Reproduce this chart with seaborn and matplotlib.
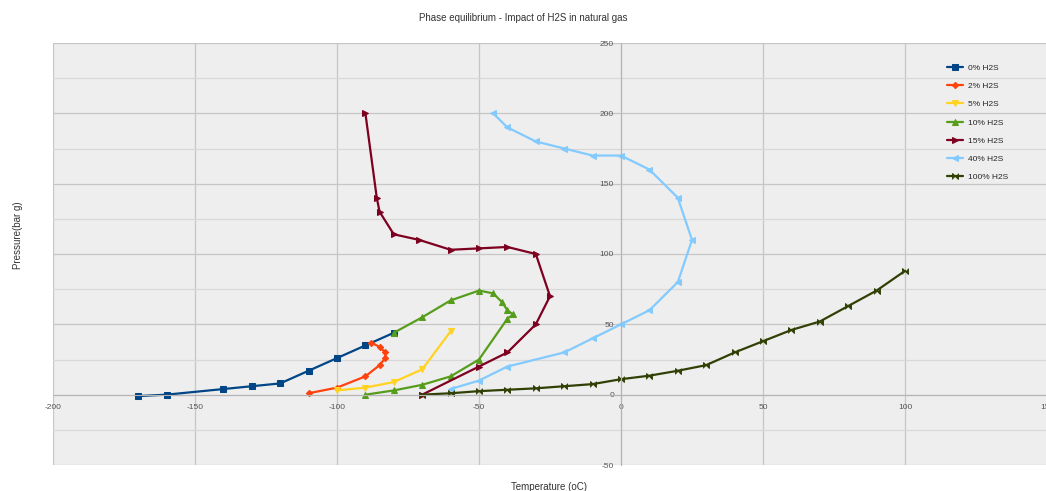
import numpy as np
import matplotlib as mpl
_ = mpl.use('Agg')
import matplotlib.pyplot as plt
import seaborn as sns
import pandas as pd

# series: temperature (oC), pressure (bar g)
t_0 = [-170, -160, -140, -130, -120, -110, -100, -90, -80]
p_0 = [-1, 0, 4, 6, 8, 17, 26, 35, 44]

t_2 = [-110, -100, -90, -85, -83, -83, -85, -88]
p_2 = [1, 5, 13, 21, 26, 30, 34, 37]

t_5 = [-100, -90, -80, -70, -60]
p_5 = [3, 5, 9, 18, 45]

t_10 = [-90, -80, -70, -60, -50, -40, -38, -40, -42, -45, -50, -60, -70, -80]
p_10 = [0, 3, 7, 13, 25, 54, 57, 60, 66, 72, 74, 67, 55, 44]

t_15 = [-90, -86, -85, -80, -71, -60, -50, -40, -30, -25, -30, -40, -50, -70]
p_15 = [200, 140, 130, 114, 110, 103, 104, 105, 100, 70, 50, 30, 20, 0]

t_40 = [-45, -40, -30, -20, -10, 0, 10, 20, 25, 20, 10, 0, -10, -20, -40, -50, -60]
p_40 = [200, 190, 180, 175, 170, 170, 160, 140, 110, 80, 60, 50, 40, 30, 20, 10, 4]

t_100 = [-70, -60, -50, -40, -30, -20, -10, 0, 10, 20, 30, 40, 50, 60, 70, 80, 90, 100]
p_100 = [0, 1, 2.5, 3.5, 4.5, 6, 7.5, 11, 13.5, 17, 21, 30, 38, 46, 52, 63, 74, 88]

labels = ['0% H2S', '2% H2S', '5% H2S', '10% H2S', '15% H2S', '40% H2S', '100% H2S']
temps = [t_0, t_2, t_5, t_10, t_15, t_40, t_100]
pressures = [p_0, p_2, p_5, p_10, p_15, p_40, p_100]

colors = ['#004586', '#ff420e', '#ffd320', '#579d1c', '#7e0021', '#83caff', '#314004']
bowtie = [(-1, -1), (-1, 1), (1, -1), (1, 1)]
markers = ['s', 'D', 'v', '^', '>', '<', bowtie]
msizes = [4.0, 3.2, 4.2, 4.2, 4.2, 4.2, 4.2]

sns.set_style('white')
plt.rcParams['font.family'] = ['Liberation Sans', 'DejaVu Sans']
plt.rcParams['axes.unicode_minus'] = False

fig = plt.figure(figsize=(10.46, 4.91), dpi=100)
ax = fig.add_axes([53 / 1046, 26 / 491, 994 / 1046, 422 / 491])
ax.set_facecolor('#eeeeee')

for lab, t, p, c, m, ms in zip(labels, temps, pressures, colors, markers, msizes):
    df = pd.DataFrame({'T': t, 'P': p})
    sns.lineplot(data=df, x='T', y='P', sort=False, estimator=None, ax=ax,
                 color=c, marker=m, markersize=ms, markeredgecolor=c,
                 linewidth=1.6, label=lab)

ax.set_xlim(-200, 150)
ax.set_ylim(-50, 250)
ax.set_xticks(np.arange(-200, 151, 50))
ax.set_yticks(np.arange(-50, 251, 50))
ax.set_yticks(np.arange(-25, 251, 50), minor=True)
ax.grid(True, which='major', color='#c6c6c6', linewidth=0.9)
ax.grid(True, which='minor', axis='y', color='#d8d8d8', linewidth=0.9)
ax.set_axisbelow(True)

ax.spines['left'].set_position(('data', 0))
ax.spines['bottom'].set_position(('data', 0))
ax.spines['left'].set_color('#b4b4b4')
ax.spines['bottom'].set_color('#b4b4b4')
ax.spines['top'].set_visible(False)
ax.spines['right'].set_visible(False)
ax.tick_params(axis='both', which='both', length=0, labelsize=6, colors='#555555')
ax.tick_params(axis='x', pad=7)
ax.tick_params(axis='y', pad=5)
ax.set_xlabel('')
ax.set_ylabel('')

fig.text(0.5, 0.963, 'Phase equilibrium - Impact of H2S in natural gas',
         ha='center', va='center', fontsize=7, color='#333333')
fig.text(0.525, 0.008, 'Temperature (oC)', ha='center', va='center',
         fontsize=7, color='#333333')
fig.text(0.017, 0.52, 'Pressure(bar g)', ha='center', va='center',
         rotation=90, fontsize=7, color='#333333')

ax.legend(loc='upper left', bbox_to_anchor=(0.898, 0.885),
          bbox_transform=fig.transFigure, frameon=False, fontsize=6,
          labelspacing=1.25, handlelength=2.0, handletextpad=0.6)

plt.savefig('out.png', dpi=100)
